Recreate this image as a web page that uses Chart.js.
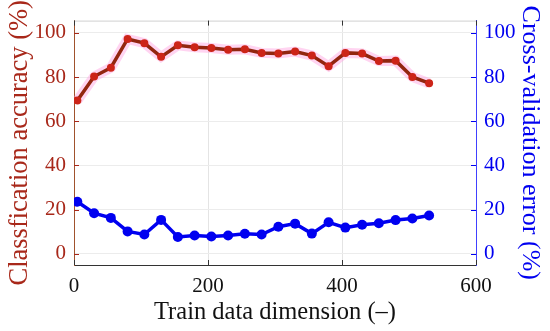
<!DOCTYPE html>
<html>
<head>
<meta charset="utf-8">
<script src="https://cdn.jsdelivr.net/npm/chart.js@4/dist/chart.umd.min.js"></script>
<style>
  html, body { margin: 0; padding: 0; background: #fff; }
  #wrap { width: 550px; height: 331px; position: relative; }
</style>
</head>
<body>
<div id="wrap"><canvas id="accGraph"></canvas></div>
<script>
//train data dimensions
const dims = [5, 30, 55, 80, 105, 130, 155, 180, 205, 230, 255, 280, 305, 330, 355, 380, 405, 430, 455, 480, 505, 530];
//classification accuracy (%)
const accVals = [69.4, 80.2, 84.2, 97.2, 95.3, 89.1, 94.3, 93.5, 93.1, 92.3, 92.5, 90.9, 90.6, 91.5, 89.7, 84.9, 90.9, 90.6, 87.2, 87.4, 80.0, 77.2];
//cross-validation error (%)
const errVals = [23.6, 18.4, 16.3, 10.2, 8.8, 15.4, 7.7, 8.3, 7.9, 8.3, 9.1, 8.8, 12.3, 13.7, 9.2, 14.3, 11.9, 13.2, 13.9, 15.3, 16.0, 17.4];
//tick labels
const xTicks = [0, 200, 400, 600];
const yTicks = [0, 20, 40, 60, 80, 100];

const redC = "#a8281a";
const blueC = "#0000f0";
const serif = "'Liberation Serif', 'DejaVu Serif', serif";

const pts = arr => dims.map((d, i) => ({ x: d, y: arr[i] }));

//inward ticks + top box line
const boxPlugin = {
  id: "box",
  afterDraw(c) {
    const a = c.chartArea, g = c.ctx;
    const sx = c.scales.x, sl = c.scales.yL, sr = c.scales.yR;
    g.save();
    g.lineWidth = 1;
    g.strokeStyle = "#d0d0d0";
    g.beginPath(); g.moveTo(a.left, a.top + 0.5); g.lineTo(a.right, a.top + 0.5); g.stroke();
    g.strokeStyle = "#333";
    xTicks.forEach(v => {
      const px = Math.round(sx.getPixelForValue(v)) + 0.5;
      g.beginPath(); g.moveTo(px, a.bottom); g.lineTo(px, a.bottom - 5); g.stroke();
      g.beginPath(); g.moveTo(px, a.top); g.lineTo(px, a.top + 5); g.stroke();
    });
    g.strokeStyle = redC;
    yTicks.forEach(v => {
      const py = Math.round(sl.getPixelForValue(v)) + 0.5;
      g.beginPath(); g.moveTo(a.left, py); g.lineTo(a.left + 5, py); g.stroke();
    });
    g.strokeStyle = blueC;
    yTicks.forEach(v => {
      const py = Math.round(sr.getPixelForValue(v)) + 0.5;
      g.beginPath(); g.moveTo(a.right, py); g.lineTo(a.right - 5, py); g.stroke();
    });
    g.restore();
  }
};

const fixTicks = list => axis => { axis.ticks = list.map(v => ({ value: v })); };

new Chart(document.getElementById("accGraph"), {
  type: "line",
  data: {
    datasets: [
      {//pink halo
        data: pts(accVals), yAxisID: "yL",
        borderColor: "rgba(255,160,225,0.45)", borderWidth: 10,
        pointRadius: 0, tension: 0, order: 3
      },
      {
        label: "accuracy", data: pts(accVals), yAxisID: "yL",
        borderColor: "#92260f", backgroundColor: "#cc2418",
        borderWidth: 3.5, pointRadius: 4, pointBorderWidth: 0, tension: 0, order: 1
      },
      {
        label: "error", data: pts(errVals), yAxisID: "yR",
        borderColor: blueC, backgroundColor: blueC,
        borderWidth: 3.5, pointRadius: 5, pointBorderWidth: 0, tension: 0, order: 2
      }
    ]
  },
  options: {
    responsive: true,
    maintainAspectRatio: false,
    animation: false,
    layout: { padding: { top: 17, left: 0, right: 0, bottom: 0 } },
    plugins: { legend: { display: false }, tooltip: { enabled: false } },
    scales: {
      x: {
        type: "linear", min: 0, max: 600,
        afterBuildTicks: fixTicks(xTicks),
        afterFit: s => { s.height = 66; },
        grid: { color: "#e4e4e4", drawTicks: false },
        border: { color: "#333", width: 1 },
        ticks: { color: "#111", font: { family: serif, size: 21 }, padding: 9 },
        title: { display: true, text: "Train data dimension (–)", color: "#111",
                 font: { family: serif, size: 24.5 }, padding: { top: -4 } }
      },
      yL: {
        position: "left", min: -5, max: 105.5,
        afterBuildTicks: fixTicks(yTicks),
        afterFit: s => { s.width = 74; },
        grid: { color: "#ececec", drawTicks: false },
        border: { color: "#a0522d", width: 1 },
        ticks: { color: redC, font: { family: serif, size: 21 }, padding: 8 },
        title: { display: true, text: "Classfication accuracy (%)", color: redC,
                 font: { family: serif, size: 26.5 }, padding: { top: 4, bottom: 0 } }
      },
      yR: {
        position: "right", min: -5, max: 105.5,
        afterBuildTicks: fixTicks(yTicks),
        afterFit: s => { s.width = 74; },
        grid: { display: false, drawTicks: false },
        border: { color: "#4040ff", width: 1 },
        ticks: { color: blueC, font: { family: serif, size: 21 }, padding: 8 },
        title: { display: true, text: "Cross-validation error (%)", color: blueC,
                 font: { family: serif, size: 26 }, padding: { top: 5, bottom: 0 } }
      }
    }
  },
  plugins: [boxPlugin]
});
</script>
</body>
</html>
